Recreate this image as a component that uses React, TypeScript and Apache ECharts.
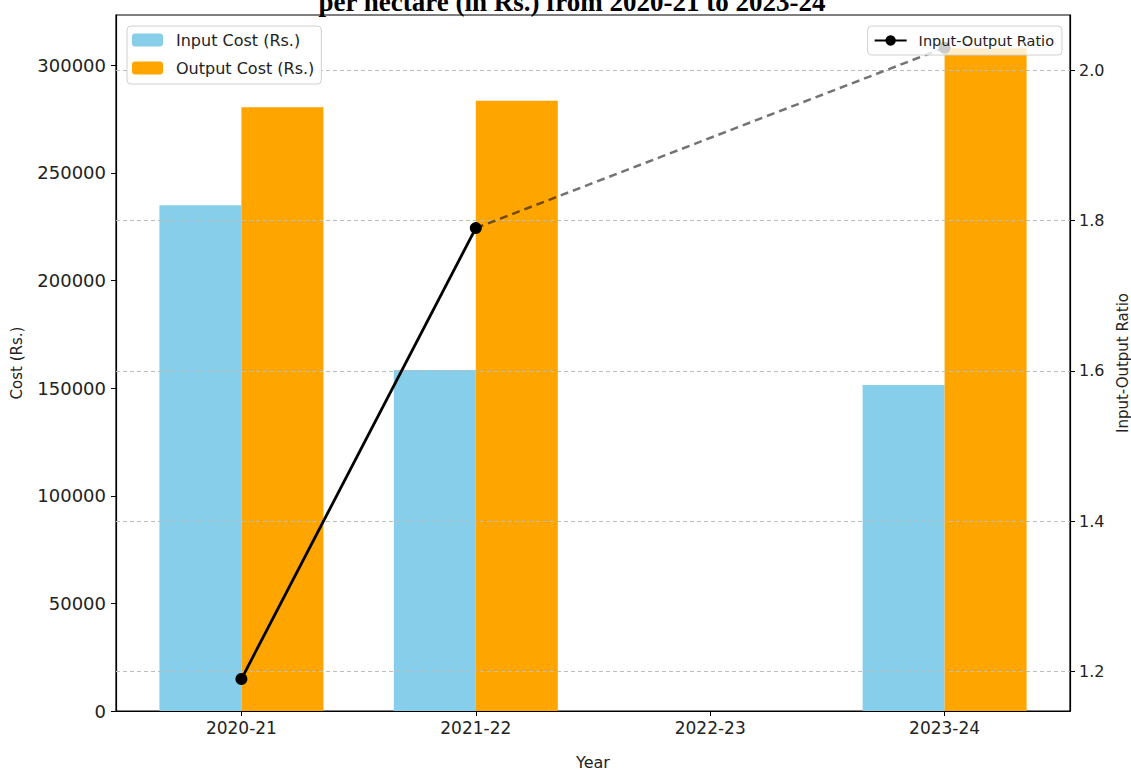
import React, { useEffect, useRef } from "react";
import * as echarts from "echarts";

const years = ["2020-21", "2021-22", "2022-23", "2023-24"];
const inputCost: (number | null)[] = [235000, 158500, null, 151500];
const outputCost: (number | null)[] = [280500, 283500, null, 308000];
const ratio: (number | null)[] = [1.19, 1.79, null, 2.03];
const costTicks = [0, 50000, 100000, 150000, 200000, 250000, 300000];
const ratioTicks = [1.2, 1.4, 1.6, 1.8, 2.0];
const yearTicks = [0, 1, 2, 3];

const FONT = "'DejaVu Sans', sans-serif";
const TXT = "#222";

export default function App() {
  const ref = useRef<HTMLDivElement>(null);
  useEffect(() => {
    if (!ref.current) return;
    const chart = echarts.init(ref.current, null, { renderer: "svg" });

    const barData = (arr: (number | null)[]) =>
      arr.map((v, i) => (v == null ? null : [i, v])).filter((d) => d != null);
    const ratioPts = ratio.map((v, i) => [i, v]);
    const valid = ratio
      .map((v, i) => (v == null ? null : [i, v]))
      .filter((d) => d != null) as number[][];
    // dashed bridge across the missing year
    const bridge = valid.slice(1);

    const option: any = {
      animation: false,
      backgroundColor: "#fff",
      textStyle: { fontFamily: FONT, color: TXT },
      graphic: [
        {
          type: "text",
          x: 572,
          y: 15,
          style: {
            text: "per hectare (in Rs.) from 2020-21 to 2023-24",
            font: "bold 27px 'Liberation Serif', 'Times New Roman', serif",
            fill: "#000",
            textAlign: "center",
            textVerticalAlign: "bottom",
          },
          z: 100,
        },
      ],
      grid: {
        left: 116,
        right: 61,
        top: 15,
        bottom: 59,
        outerBoundsMode: "none",
        containLabel: false,
        show: true,
        borderColor: "#000",
        borderWidth: 1.2,
        backgroundColor: "transparent",
      },
      legend: [
        {
          data: ["Input Cost (Rs.)", "Output Cost (Rs.)"],
          orient: "vertical",
          left: 127,
          top: 26,
          itemWidth: 31,
          itemHeight: 13,
          itemGap: 12,
          padding: [6, 7, 8, 5],
          backgroundColor: "rgba(255,255,255,0.8)",
          borderColor: "#d0d0d0",
          borderWidth: 1,
          borderRadius: 4,
          textStyle: {
            fontSize: 16,
            color: TXT,
            fontFamily: FONT,
            padding: [0, 0, 0, 8],
          },
          z: 20,
        },
        {
          data: ["Input-Output Ratio"],
          orient: "vertical",
          right: 69,
          top: 26,
          itemWidth: 32,
          itemHeight: 13,
          padding: [7, 8, 7, 6],
          backgroundColor: "rgba(255,255,255,0.8)",
          borderColor: "#d0d0d0",
          borderWidth: 1,
          borderRadius: 4,
          textStyle: {
            fontSize: 14.5,
            color: TXT,
            fontFamily: FONT,
            padding: [0, 0, 0, 7],
          },
          z: 20,
        },
      ],
      xAxis: {
        type: "value",
        min: -0.535,
        max: 3.535,
        name: "Year",
        nameLocation: "middle",
        nameGap: 43,
        nameTextStyle: { fontSize: 16, color: TXT, fontFamily: FONT },
        axisLine: { show: true, onZero: false, lineStyle: { color: "#000", width: 1.2 } },
        axisTick: {
          show: true,
          length: 5,
          customValues: yearTicks,
          lineStyle: { color: "#000" },
        },
        axisLabel: {
          customValues: yearTicks,
          formatter: (v: number) => years[Math.round(v)] ?? "",
          fontSize: 17,
          color: TXT,
          margin: 8,
          fontFamily: FONT,
        },
        splitLine: { show: false },
      },
      yAxis: [
        {
          type: "value",
          min: 0,
          max: 323400,
          position: "left",
          name: "Cost (Rs.)",
          nameLocation: "middle",
          nameGap: 92,
          nameTextStyle: { fontSize: 15, color: TXT, fontFamily: FONT },
          axisLine: { show: true, onZero: false, lineStyle: { color: "#000", width: 1.2 } },
          axisTick: {
            show: true,
            length: 5,
            customValues: costTicks,
            lineStyle: { color: "#000" },
          },
          axisLabel: {
            customValues: costTicks,
            formatter: (v: number) => String(Math.round(v)),
            fontSize: 18,
            color: TXT,
            margin: 10,
            fontFamily: FONT,
          },
          splitLine: { show: false },
        },
        {
          type: "value",
          min: 1.1475,
          max: 2.0735,
          position: "right",
          name: "Input-Output Ratio",
          nameLocation: "middle",
          nameGap: 44,
          nameRotate: 90,
          nameTextStyle: { fontSize: 15, color: TXT, fontFamily: FONT },
          axisLine: { show: true, onZero: false, lineStyle: { color: "#000", width: 1.2 } },
          axisTick: {
            show: true,
            length: 5,
            customValues: ratioTicks,
            lineStyle: { color: "#000" },
          },
          axisLabel: {
            customValues: ratioTicks,
            formatter: (v: number) => v.toFixed(1),
            fontSize: 16,
            color: TXT,
            margin: 9,
            fontFamily: FONT,
          },
          splitLine: { show: false },
        },
      ],
      series: [
        {
          name: "Input Cost (Rs.)",
          type: "bar",
          data: barData(inputCost),
          barWidth: 82,
          barGap: "0%",
          itemStyle: { color: "#87CEEB" },
          z: 2,
        },
        {
          name: "Output Cost (Rs.)",
          type: "bar",
          data: barData(outputCost),
          barWidth: 82,
          barGap: "0%",
          itemStyle: { color: "#FFA500" },
          z: 2,
        },
        {
          name: "gridlines",
          type: "line",
          yAxisIndex: 1,
          data: [],
          silent: true,
          markLine: {
            silent: true,
            symbol: "none",
            label: { show: false },
            lineStyle: { color: "#bdbdbd", type: [4, 3], width: 1 },
            data: ratioTicks.map((t) => ({ yAxis: t })),
            z: 5,
          },
        },
        {
          name: "bridge",
          type: "line",
          yAxisIndex: 1,
          data: bridge,
          showSymbol: false,
          symbol: "none",
          lineStyle: { color: "rgba(0,0,0,0.55)", width: 2.5, type: [8, 5] },
          z: 9,
        },
        {
          name: "Input-Output Ratio",
          type: "line",
          yAxisIndex: 1,
          data: ratioPts,
          connectNulls: false,
          symbol: "circle",
          symbolSize: 12,
          showAllSymbol: true,
          itemStyle: { color: "#000" },
          lineStyle: { color: "#000", width: 2.8 },
          z: 10,
        },
      ],
    };
    chart.setOption(option);
    return () => chart.dispose();
  }, []);

  return (
    <div
      ref={ref}
      style={{ position: "fixed", left: 0, top: 0, width: 1131, height: 770 }}
    />
  );
}
